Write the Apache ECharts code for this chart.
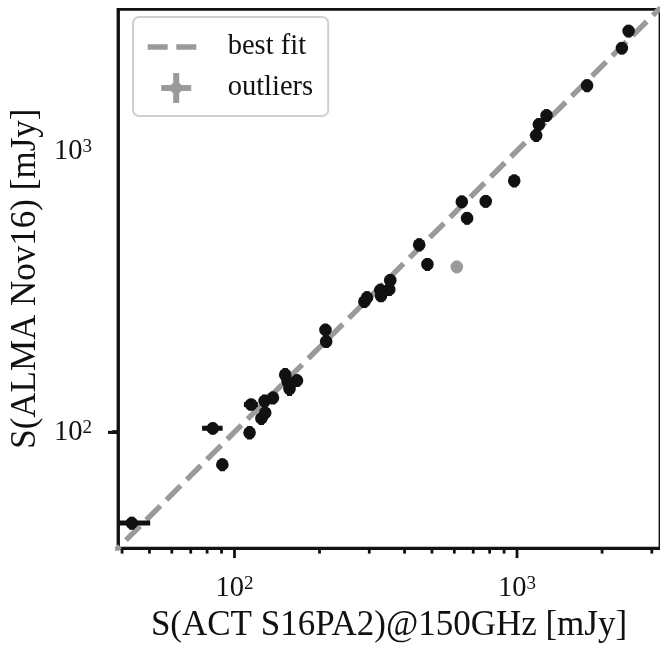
<!DOCTYPE html>
<html><head><meta charset="utf-8">
<script src="https://cdn.jsdelivr.net/npm/echarts@6/dist/echarts.min.js"></script>
<style>html,body{margin:0;padding:0;background:#fff}#c{width:660px;height:648px}</style>
</head><body><div id="c"></div>
<script>
// ---- data (mJy) ----
const actFlux  = [43.3, 83.8, 90.6, 113.1, 114.5, 124.5, 128.5, 127.8, 136.8, 151.2, 154.1, 156.6, 166.4,
                  209.9, 211.1, 288.2, 294.5, 328.2, 330.1, 353.0, 355.9, 450.6, 481.9,
                  637.7, 665.7, 775.0, 977.5, 1169, 1195, 1272, 1770, 2351, 2483];
const almaFlux = [47.5, 103.3, 76.7, 99.7, 125.6, 112.1, 117.4, 129.2, 132.7, 160.4, 151.2, 142.8, 153.0,
                  231.5, 210.6, 291.9, 301.6, 320.8, 306.5, 322.7, 348.0, 465.6, 396.5,
                  662.4, 578.7, 664.7, 786.3, 1141, 1248, 1343, 1716, 2333, 2685];
const actErr   = [7, 7, 4, 2.5, 6.5, 3, 5, 3, 4, 3, 3, 3, 4,
                  4, 4, 5, 5, 6, 6, 6, 6, 8, 8,
                  10, 10, 12, 15, 18, 18, 20, 25, 35, 35];
const almaErr  = [2.5, 5, 4, 5.5, 6, 6, 6.5, 7, 7, 9, 8, 8, 8,
                  12, 11, 15, 16, 17, 16, 17, 18, 25, 21,
                  35, 30, 35, 42, 60, 65, 70, 90, 120, 140];
const outlierAct = [612.2];
const outlierAlma = [388.1];
const outlierActErr = [10];
const outlierAlmaErr = [20];
const fitAct  = [35, 3500];
const fitAlma = [35, 3530];
const majorTicks = [100, 1000];
const minorTicks = [40, 50, 60, 70, 80, 90, 200, 300, 400, 500, 600, 700, 800, 900, 2000, 3000];
const axisMin = 38.7, axisMax = 3207;
const xTitle = 'S(ACT S16PA2)@150GHz [mJy]';
const yTitle = 'S(ALMA Nov16) [mJy]';

// ---- styles ----
const FONT = "'Liberation Serif', 'DejaVu Serif', serif";
const INK = '#111111';
const GREY = '#9a9a9a';
const LW = 2.8;

const chart = echarts.init(document.getElementById('c'), null, {renderer: 'canvas'});

function powLabel(v) {
  const e = Math.round(Math.log10(v));
  if (Math.abs(Math.log10(v) - e) > 1e-6) return '';
  return '{b|10}{s|' + e + '}';
}
const richLbl = {
  b: {fontSize: 28.5, fontFamily: FONT, color: INK, verticalAlign: 'bottom', lineHeight: 30},
  s: {fontSize: 19, fontFamily: FONT, color: INK, verticalAlign: 'bottom', lineHeight: 20, padding: [0, 0, 10, 0]}
};

function errRender(color) {
  return function (params, api) {
    const x = api.value(0), y = api.value(1), xe = api.value(2), ye = api.value(3);
    const c = api.coord([x, y]);
    const l = api.coord([x - xe, y]), r = api.coord([x + xe, y]);
    const b = api.coord([x, y - ye]), t = api.coord([x, y + ye]);
    const st = {stroke: color, lineWidth: 5};
    return {type: 'group', children: [
      {type: 'line', shape: {x1: l[0], y1: c[1], x2: r[0], y2: c[1]}, style: st},
      {type: 'line', shape: {x1: c[0], y1: b[1], x2: c[0], y2: t[1]}, style: st},
      {type: 'circle', shape: {cx: c[0], cy: c[1], r: 6.3}, style: {fill: color}}
    ]};
  };
}

function tickRender(dir, len) {
  return function (params, api) {
    const cs = params.coordSys;
    const v = api.value(0);
    if (dir === 'x') {
      const px = api.coord([v, 100])[0];
      const by = cs.y + cs.height;
      return {type: 'line', shape: {x1: px, y1: by, x2: px, y2: by + len}, style: {stroke: INK, lineWidth: LW}};
    } else {
      const py = api.coord([100, v])[1];
      const lx = cs.x;
      return {type: 'line', shape: {x1: lx, y1: py, x2: lx - len, y2: py}, style: {stroke: INK, lineWidth: LW}};
    }
  };
}

const mainData = actFlux.map((x, i) => [x, almaFlux[i], actErr[i], almaErr[i]]);
const outData = outlierAct.map((x, i) => [x, outlierAlma[i], outlierActErr[i], outlierAlmaErr[i]]);
const fitData = fitAct.map((x, i) => [x, fitAlma[i]]);

const plusIcon = 'path://M0,12 L30,12 L30,18 L0,18 Z M12,0 L18,0 L18,30 L12,30 Z M9,15 A6,6 0 1,1 21,15 A6,6 0 1,1 9,15 Z';

chart.setOption({
  animation: false,
  color: [GREY, INK, GREY],
  grid: {left: 118, top: 9.3, right: -1.5, bottom: 97, show: true, borderColor: INK, borderWidth: LW, backgroundColor: 'transparent'},
  xAxis: {
    type: 'log', logBase: 10, min: axisMin, max: axisMax,
    splitLine: {show: false},
    axisLine: {show: true, lineStyle: {color: INK, width: LW}},
    axisTick: {show: false},
    axisLabel: {formatter: powLabel, rich: richLbl, margin: 25, showMinLabel: false, showMaxLabel: false},
    name: xTitle, nameLocation: 'middle', nameGap: 47,
    nameTextStyle: {fontFamily: FONT, fontSize: 35, color: INK}
  },
  yAxis: {
    type: 'log', logBase: 10, min: axisMin, max: axisMax,
    splitLine: {show: false},
    axisLine: {show: true, lineStyle: {color: INK, width: LW}},
    axisTick: {show: false},
    axisLabel: {formatter: powLabel, rich: richLbl, margin: 26, showMinLabel: false, showMaxLabel: false},
    name: yTitle, nameLocation: 'middle', nameGap: 72,
    nameTextStyle: {fontFamily: FONT, fontSize: 35, color: INK}
  },
  legend: {
    left: 133, top: 17, orient: 'vertical',
    padding: [15, 15, 13, 12], itemGap: 11, itemWidth: 57, itemHeight: 30,
    backgroundColor: '#ffffff', borderColor: '#d0d0d0', borderWidth: 2, borderRadius: 6,
    selectedMode: false,
    textStyle: {fontFamily: FONT, fontSize: 28.5, color: INK, padding: [0, 0, 0, 18], lineHeight: 30},
    data: [
      {name: 'best fit', itemStyle: {opacity: 0}, lineStyle: {width: 5.4, type: [20, 8.6], color: GREY, opacity: 1}},
      {name: 'outliers', icon: plusIcon, itemStyle: {color: GREY, borderWidth: 0}}
    ]
  },
  series: [
    {name: 'best fit', type: 'line', data: fitData, symbol: 'none', silent: true,
     itemStyle: {color: GREY},
     lineStyle: {color: GREY, width: 5.4, type: [20, 8.6]}, z: 2},
    {name: 'data', type: 'custom', renderItem: errRender(INK), data: mainData, clip: true, silent: true, z: 3,
     itemStyle: {color: INK}},
    {name: 'outliers', type: 'custom', renderItem: errRender(GREY), data: outData, clip: true, silent: true, z: 3,
     itemStyle: {color: GREY}},
    {type: 'custom', renderItem: tickRender('x', 10), data: majorTicks.map(v => [v, 100]), clip: false, silent: true},
    {type: 'custom', renderItem: tickRender('x', 5.5), data: minorTicks.map(v => [v, 100]), clip: false, silent: true},
    {type: 'custom', renderItem: tickRender('y', 10), data: majorTicks.map(v => [100, v]), clip: false, silent: true},
    {type: 'custom', renderItem: tickRender('y', 5.5), data: minorTicks.map(v => [100, v]), clip: false, silent: true}
  ]
});
</script>
</body></html>
